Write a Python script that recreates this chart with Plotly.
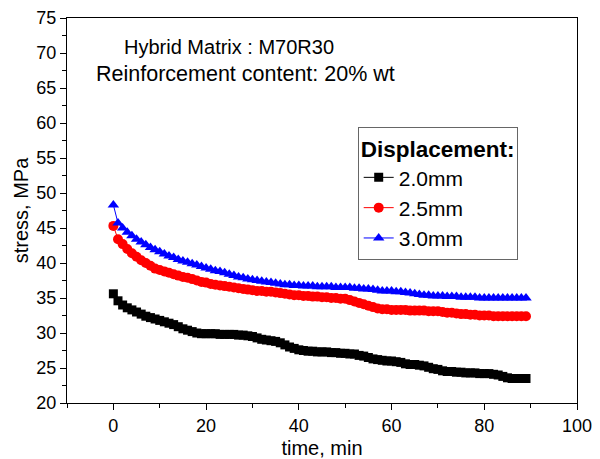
import plotly.graph_objects as go

time_min = list(range(0, 90))

stress_2_0mm = [
    35.6, 34.6, 34.0, 33.6, 33.3, 33.0, 32.7, 32.4, 32.2, 32.0,
    31.8, 31.6, 31.4, 31.2, 30.9, 30.6, 30.4, 30.2, 30.0, 29.9,
    29.9, 29.9, 29.9, 29.8, 29.8, 29.8, 29.8, 29.7, 29.7, 29.6,
    29.5, 29.3, 29.1, 29.0, 28.9, 28.8, 28.6, 28.3, 28.0, 27.8,
    27.6, 27.5, 27.4, 27.4, 27.3, 27.3, 27.3, 27.2, 27.2, 27.1,
    27.1, 27.0, 27.0, 26.8, 26.7, 26.5, 26.3, 26.2, 26.1, 26.0,
    26.0, 25.9, 25.8, 25.6, 25.5, 25.5, 25.4, 25.3, 25.1, 24.9,
    24.8, 24.6, 24.5, 24.5, 24.4, 24.4, 24.3, 24.3, 24.3, 24.2,
    24.2, 24.2, 24.1, 24.0, 23.8, 23.6, 23.5, 23.5, 23.5, 23.5,
]

stress_2_5mm = [
    45.3, 43.4, 42.7, 42.0, 41.4, 40.9, 40.4, 40.0, 39.6, 39.2,
    39.0, 38.8, 38.6, 38.4, 38.2, 38.0, 37.9, 37.7, 37.5, 37.3,
    37.2, 37.0, 36.9, 36.8, 36.7, 36.6, 36.5, 36.4, 36.3, 36.2,
    36.1, 36.0, 36.0, 35.9, 35.9, 35.8, 35.7, 35.6, 35.5, 35.4,
    35.4, 35.3, 35.3, 35.2, 35.2, 35.1, 35.1, 35.0, 35.0, 34.9,
    34.9, 34.7, 34.5, 34.3, 34.1, 33.9, 33.7, 33.5, 33.4, 33.4,
    33.3, 33.3, 33.3, 33.3, 33.2, 33.2, 33.2, 33.2, 33.1, 33.1,
    33.1, 33.0, 32.9, 32.9, 32.8, 32.7, 32.7, 32.6, 32.6, 32.5,
    32.5, 32.5, 32.4, 32.4, 32.4, 32.4, 32.4, 32.4, 32.4, 32.4,
]

stress_3_0mm = [
    48.3, 45.7, 45.0, 44.4, 43.9, 43.4, 43.0, 42.6, 42.2, 41.9,
    41.6, 41.3, 41.0, 40.8, 40.5, 40.3, 40.1, 39.9, 39.7, 39.5,
    39.3, 39.1, 38.9, 38.8, 38.6, 38.4, 38.2, 38.0, 37.9, 37.7,
    37.6, 37.5, 37.4, 37.3, 37.2, 37.1, 37.0, 36.9, 36.9, 36.8,
    36.8, 36.7, 36.7, 36.7, 36.6, 36.6, 36.6, 36.6, 36.5, 36.5,
    36.5, 36.5, 36.4, 36.4, 36.3, 36.3, 36.2, 36.1, 36.0, 36.0,
    36.0, 35.9, 35.9, 35.8, 35.7, 35.6, 35.5, 35.4, 35.4, 35.3,
    35.3, 35.3, 35.2, 35.2, 35.2, 35.1, 35.1, 35.1, 35.1, 35.0,
    35.0, 35.0, 35.0, 35.0, 35.0, 35.0, 35.0, 35.0, 35.0, 35.0,
]

series_names = ["2.0mm", "2.5mm", "3.0mm"]
series_values = [stress_2_0mm, stress_2_5mm, stress_3_0mm]
series_colors = ["#000000", "#ff0000", "#0000ff"]
series_symbols = ["square", "circle", "triangle-up"]
series_sizes = [9, 10, 10]

fig = go.Figure()
for name, vals, col, sym, sz in zip(series_names, series_values, series_colors,
                                    series_symbols, series_sizes):
    fig.add_trace(go.Scatter(
        x=time_min, y=vals, name=name, mode="lines+markers",
        line=dict(color=col, width=1),
        marker=dict(symbol=sym, size=sz, color=col),
    ))

font_family = "Liberation Sans, Arial, sans-serif"

fig.update_layout(
    width=600, height=459,
    margin=dict(l=67, r=23, t=18, b=56, autoexpand=False),
    paper_bgcolor="white", plot_bgcolor="white",
    font=dict(family=font_family, color="black", size=18),
    showlegend=True,
    legend=dict(
        x=0.57, y=0.717, xanchor="left", yanchor="top",
        bgcolor="white", bordercolor="#666666", borderwidth=1,
        font=dict(size=21, family=font_family),
        title=dict(text="<b>Displacement:</b>", font=dict(size=22.5, family=font_family)),
        itemwidth=30, tracegroupgap=0,
    ),
    xaxis=dict(
        range=[-10, 100], tickvals=[0, 20, 40, 60, 80, 100],
        showline=True, linecolor="black", linewidth=1, mirror=True,
        ticks="outside", ticklen=6, tickcolor="black",
        minor=dict(dtick=10, tick0=0, ticks="outside", ticklen=4, tickcolor="black"),
        showgrid=False, zeroline=False, automargin=False,
        title=dict(text="time, min", font=dict(size=20), standoff=8),
        tickfont=dict(size=18),
    ),
    yaxis=dict(
        range=[20, 75], dtick=5, tick0=20,
        showline=True, linecolor="black", linewidth=1, mirror=True,
        ticks="outside", ticklen=6, tickcolor="black",
        minor=dict(dtick=2.5, tick0=20, ticks="outside", ticklen=4, tickcolor="black"),
        showgrid=False, zeroline=False, automargin=False,
        title=dict(text="stress, MPa", font=dict(size=20), standoff=2),
        tickfont=dict(size=18),
    ),
    annotations=[
        dict(text="Hybrid Matrix : M70R30", xref="paper", yref="paper",
             x=0.317, y=0.925, xanchor="center", yanchor="middle",
             showarrow=False, font=dict(size=20)),
        dict(text="Reinforcement content: 20% wt", xref="paper", yref="paper",
             x=0.35, y=0.855, xanchor="center", yanchor="middle",
             showarrow=False, font=dict(size=21.5)),
    ],
)

fig.write_html("out.html")
